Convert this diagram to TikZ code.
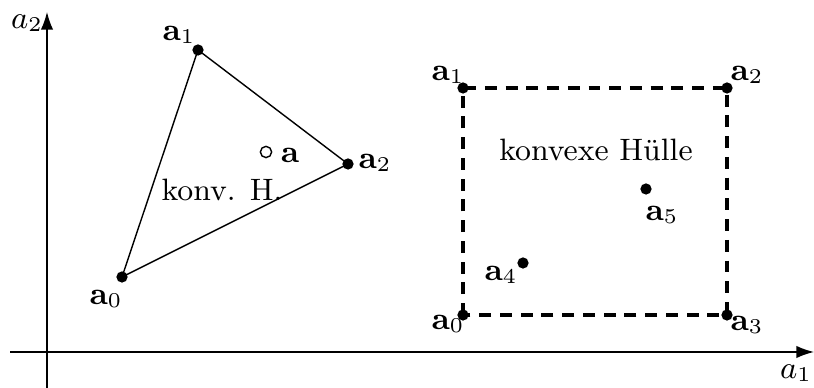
\documentclass[tikz,border=0pt]{standalone}
\usetikzlibrary{arrows.meta}
\tikzset{
  pt/.style={fill, circle, inner sep=0pt, minimum size=3.2pt},
  lbl/.style={inner sep=1.5pt},
  hull/.style={dashed, dash pattern=on 3.4pt off 2.5pt, line width=0.9pt}
}
\begin{document}
\begin{tikzpicture}[line width=0.4pt, font=\fontsize{8.8}{10.5}\selectfont]
  \useasboundingbox (0,0) rectangle (8.14,3.88);
  % axes
  \coordinate (xs) at (0.10,0.36);
  \coordinate (xe) at (8.14,0.36);
  \coordinate (ys) at (0.47,0.00);
  \coordinate (ye) at (0.47,3.76);
  \draw[-{Latex[length=5pt,width=3.5pt]}] (xs) -- (xe);
  \draw[-{Latex[length=5pt,width=3.5pt]}] (ys) -- (ye);
  \node[lbl] (xl) at (7.96,0.15) {$a_1$};
  \node[lbl] (yl) at (0.27,3.65) {$a_2$};
  % triangle
  \coordinate (t0) at (1.22,1.11);
  \coordinate (t1) at (1.98,3.38);
  \coordinate (t2) at (3.48,2.24);
  \draw (t0) -- (t1) -- (t2) -- cycle;
  \foreach \p in {t0,t1,t2} \node[pt] at (\p) {};
  \node[lbl] (lt0) at (1.06,0.89) {$\mathbf{a}_0$};
  \node[lbl] (lt1) at (1.79,3.53) {$\mathbf{a}_1$};
  \node[lbl] (lt2) at (3.75,2.25) {$\mathbf{a}_2$};
  \draw (2.66,2.36) circle (1.6pt);
  \node[lbl] (la) at (2.90,2.33) {$\mathbf{a}$};
  \node[lbl] (kh) at (2.22,1.98) {konv. H.};
  % square
  \coordinate (s0) at (4.63,0.73);
  \coordinate (s1) at (4.63,3.00);
  \coordinate (s2) at (7.27,3.00);
  \coordinate (s3) at (7.27,0.73);
  \draw[hull] (s0) -- (s1) -- (s2) -- (s3) -- cycle;
  \coordinate (s4) at (5.23,1.25);
  \coordinate (s5) at (6.46,1.99);
  \foreach \p in {s0,s1,s2,s3,s4,s5} \node[pt] at (\p) {};
  \node[lbl] (ls0) at (4.48,0.64) {$\mathbf{a}_0$};
  \node[lbl] (ls1) at (4.48,3.13) {$\mathbf{a}_1$};
  \node[lbl] (ls2) at (7.47,3.13) {$\mathbf{a}_2$};
  \node[lbl] (ls3) at (7.47,0.63) {$\mathbf{a}_3$};
  \node[lbl] (ls4) at (5.01,1.13) {$\mathbf{a}_4$};
  \node[lbl] (ls5) at (6.62,1.73) {$\mathbf{a}_5$};
  \node[lbl] (kvh) at (5.96,2.38) {konvexe Hülle};
\end{tikzpicture}
\end{document}
